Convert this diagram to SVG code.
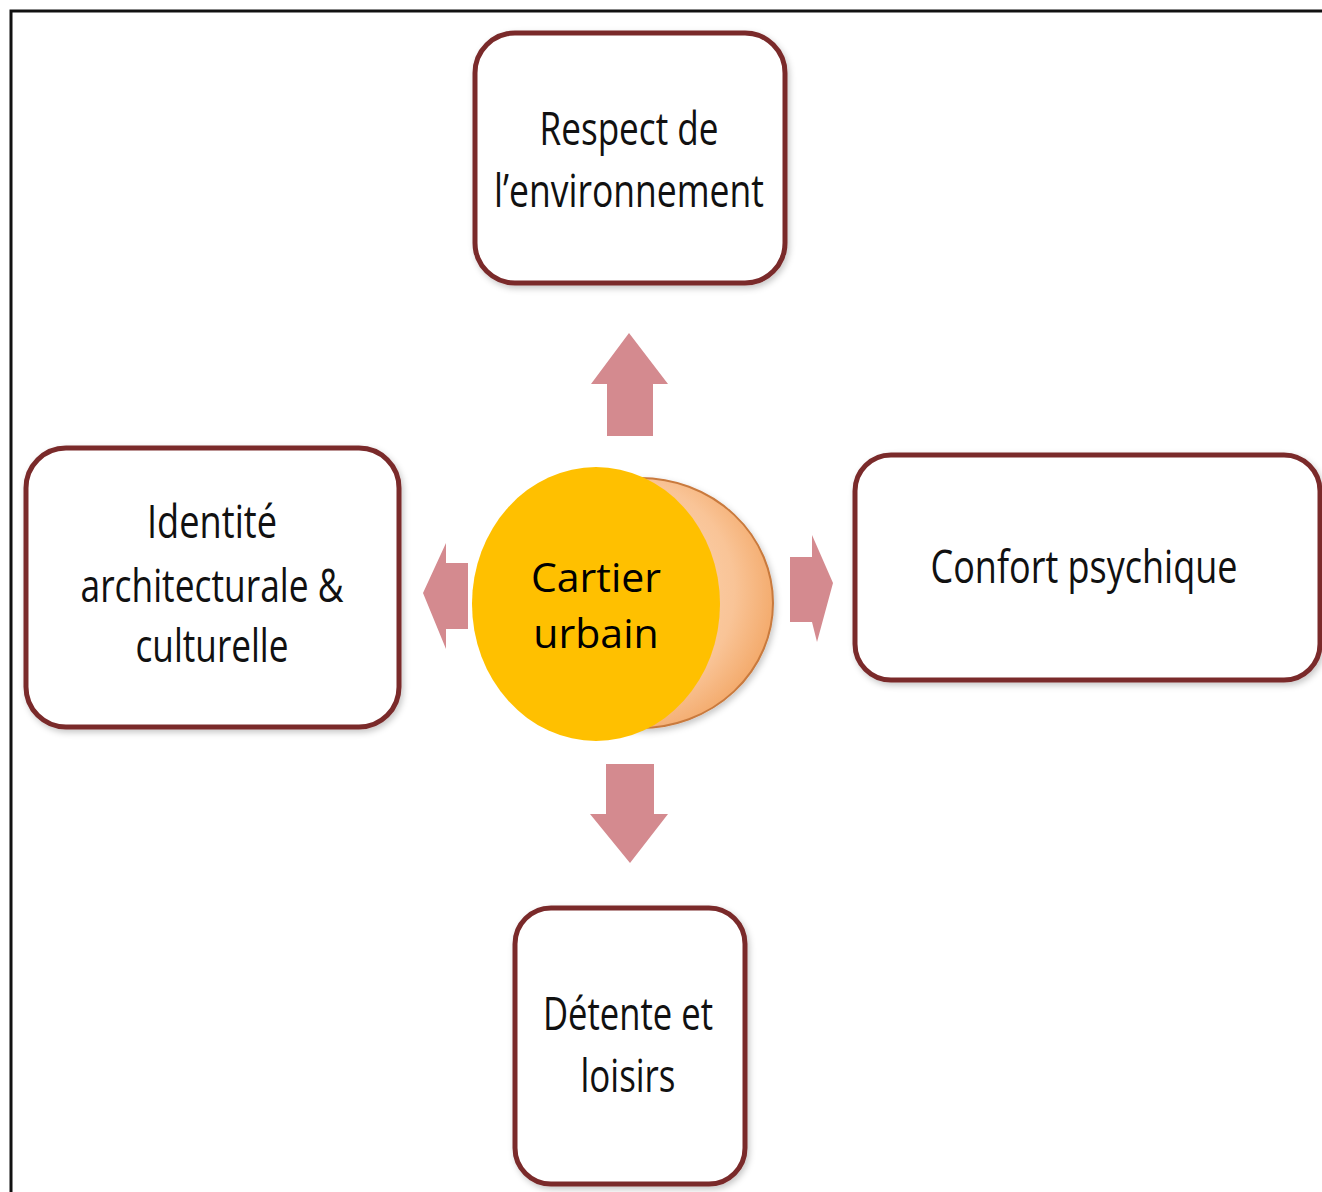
<svg xmlns="http://www.w3.org/2000/svg" width="1322" height="1192" viewBox="0 0 1322 1192">
  <defs>
    <radialGradient id="peach" cx="0.4" cy="0.45" r="0.65">
      <stop offset="0" stop-color="#fde0c6"/>
      <stop offset="0.7" stop-color="#f9c497"/>
      <stop offset="1" stop-color="#f2a461"/>
    </radialGradient>
    <filter id="sh" x="-10%" y="-10%" width="130%" height="130%">
      <feGaussianBlur in="SourceAlpha" stdDeviation="3"/>
      <feOffset dx="2" dy="3" result="b"/>
      <feFlood flood-color="#000" flood-opacity="0.22"/>
      <feComposite in2="b" operator="in"/>
      <feMerge><feMergeNode/><feMergeNode in="SourceGraphic"/></feMerge>
    </filter>
    <style>
      .box { fill: #ffffff; stroke: #7a2a2b; stroke-width: 5; }
      .lbl { font-family: "Open Sans", "Noto Sans", "Liberation Sans", sans-serif; font-size: 45px; fill: #111; text-anchor: middle; }
      .arr { fill: #d48a8f; }
      .ctr { font-family: "Open Sans", "Noto Sans", "Liberation Sans", sans-serif; font-size: 41px; fill: #000; text-anchor: middle; }
    </style>
  </defs>
  <rect width="1322" height="1192" fill="#ffffff"/>
  <path d="M11,1192 V11 H1322" fill="none" stroke="#111" stroke-width="3"/>

  <g id="connectors">
    <polygon class="arr" points="629,333 668,384 653,384 653,436 607,436 607,384 591,384"/>
    <polygon class="arr" points="630,863 668,814 654,814 654,764 606,764 606,814 590,814"/>
    <polygon class="arr" points="423,593 446,543 446,563 468,563 468,629 446,629 446,649"/>
    <polygon class="arr" points="833,583 812,535 812,557 790,557 790,622 812,622 817,642"/>
  </g>

  <g id="node-top">
    <rect class="box" x="475" y="33" width="310" height="250" rx="40" filter="url(#sh)"/>
    <text class="lbl" x="629" y="145" textLength="179" lengthAdjust="spacingAndGlyphs">Respect de</text>
    <text class="lbl" x="629" y="207" textLength="270" lengthAdjust="spacingAndGlyphs">l’environnement</text>
  </g>

  <g id="node-left">
    <rect class="box" x="26" y="448" width="373" height="279" rx="40" filter="url(#sh)"/>
    <text class="lbl" x="212" y="538" textLength="130" lengthAdjust="spacingAndGlyphs">Identité</text>
    <text class="lbl" x="212" y="602" textLength="263" lengthAdjust="spacingAndGlyphs">architecturale &amp;</text>
    <text class="lbl" x="212" y="662" textLength="153" lengthAdjust="spacingAndGlyphs">culturelle</text>
  </g>

  <g id="node-right">
    <rect class="box" x="855" y="455" width="465" height="225" rx="36" filter="url(#sh)"/>
    <text class="lbl" x="1084" y="583" textLength="307" lengthAdjust="spacingAndGlyphs">Confort psychique</text>
  </g>

  <g id="node-bottom">
    <rect class="box" x="515" y="908" width="230" height="276" rx="36" filter="url(#sh)"/>
    <text class="lbl" x="628" y="1030" textLength="170" lengthAdjust="spacingAndGlyphs">Détente et</text>
    <text class="lbl" x="628" y="1092" textLength="95" lengthAdjust="spacingAndGlyphs">loisirs</text>
  </g>

  <g id="node-center">
    <ellipse cx="640" cy="603" rx="133" ry="125" fill="url(#peach)" stroke="#c97a3e" stroke-width="2" filter="url(#sh)"/>
    <ellipse cx="596" cy="604" rx="124" ry="137" fill="#ffc000"/>
    <text class="ctr" x="596" y="592">Cartier</text>
    <text class="ctr" x="596" y="648">urbain</text>
  </g>
</svg>
